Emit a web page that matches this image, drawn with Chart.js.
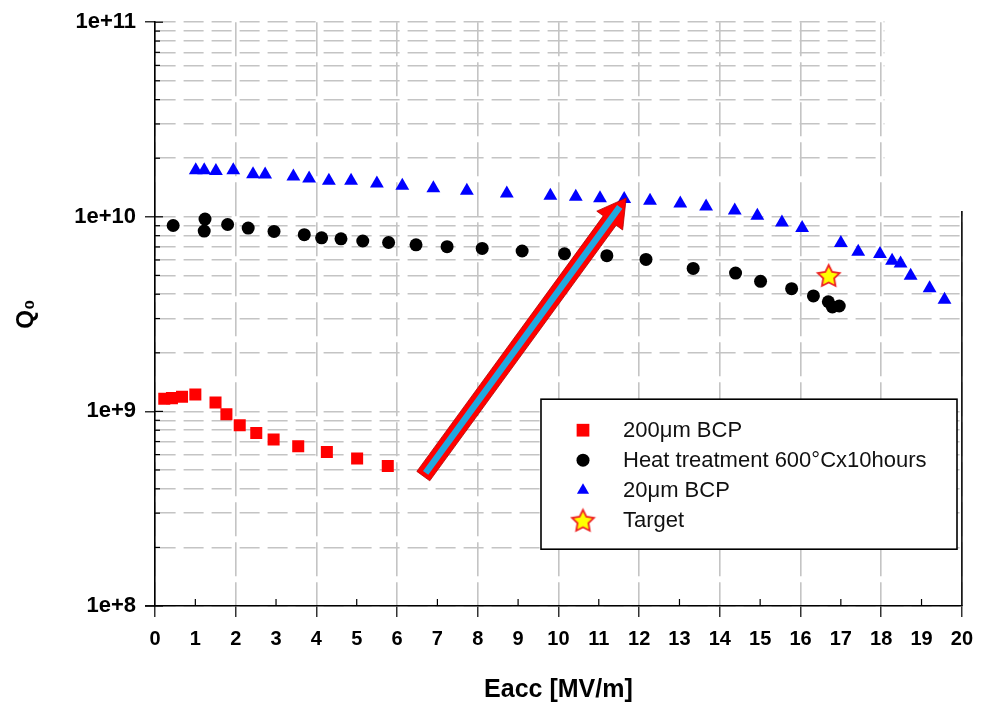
<!DOCTYPE html>
<html>
<head>
<meta charset="utf-8">
<script src="https://cdn.jsdelivr.net/npm/chart.js@4.4.1/dist/chart.umd.min.js"></script>
<style>
  html, body { margin: 0; padding: 0; background: #ffffff; }
  #wrap { width: 983px; height: 705px; position: relative; }
</style>
</head>
<body>
<div id="wrap"><canvas id="chart" width="983" height="705"></canvas></div>
<script>
// ---------------- data ----------------
const bcp200X = [0.23, 0.42, 0.67, 1.00, 1.50, 1.77, 2.10, 2.51, 2.94, 3.55, 4.26, 5.01, 5.77];
const bcp200Q = [1.16e9, 1.17e9, 1.19e9, 1.22e9, 1.11e9, 9.66e8, 8.48e8, 7.74e8, 7.18e8, 6.62e8, 6.18e8, 5.72e8, 5.24e8];

const heatX = [0.45, 1.24, 1.22, 1.80, 2.31, 2.95, 3.70, 4.13, 4.61, 5.15, 5.79, 6.47, 7.24, 8.11, 9.10,
               10.15, 11.20, 12.17, 13.34, 14.39, 15.01, 15.78, 16.32, 16.69, 16.79, 16.96];
const heatQ = [9.02e9, 9.73e9, 8.45e9, 9.13e9, 8.75e9, 8.41e9, 8.09e9, 7.80e9, 7.71e9, 7.51e9, 7.38e9, 7.18e9, 7.02e9, 6.88e9, 6.67e9,
               6.46e9, 6.31e9, 6.04e9, 5.43e9, 5.14e9, 4.66e9, 4.27e9, 3.92e9, 3.66e9, 3.44e9, 3.48e9];

const bcp20X = [1.01, 1.22, 1.51, 1.94, 2.43, 2.73, 3.43, 3.82, 4.31, 4.86, 5.50, 6.13, 6.90, 7.73, 8.72,
                9.80, 10.43, 11.03, 11.63, 12.27, 13.02, 13.66, 14.37, 14.93, 15.54, 16.04, 17.00, 17.43, 17.97,
                18.27, 18.48, 18.73, 19.20, 19.57];
const bcp20Q = [1.736e10, 1.736e10, 1.721e10, 1.736e10, 1.655e10, 1.648e10, 1.610e10, 1.572e10, 1.530e10, 1.530e10,
                1.482e10, 1.442e10, 1.403e10, 1.360e10, 1.317e10, 1.282e10, 1.267e10, 1.247e10, 1.233e10, 1.209e10,
                1.170e10, 1.129e10, 1.078e10, 1.012e10, 9.35e9, 8.75e9, 7.34e9, 6.61e9, 6.44e9, 5.95e9, 5.76e9,
                4.98e9, 4.29e9, 3.75e9];

const targetX = [16.70];
const targetQ = [5.0e9];

const seriesLabels = ['200\u03bcm BCP', 'Heat treatment 600\u00b0Cx10hours', '20\u03bcm BCP', 'Target'];

const xMin = 0, xMax = 20, xStep = 1;
const yDecadeExps = [8, 9, 10, 11];
const yMantissas = [1, 2, 3, 4, 5, 6, 7, 8, 9];

// annotation arrow (tail and tip in data units)
const arrowTail = [6.65, 4.65e8];
const arrowTip = [11.68, 1.25e10];

// ---------------- helpers ----------------
const FONT = "'Liberation Sans', Arial, Helvetica, sans-serif";
const toPoints = (xs, ys) => xs.map((x, i) => ({ x: x, y: ys[i] }));

function makeStar(R, fill, stroke) {
  const s = Math.ceil(R * 2 + 4);
  const c = document.createElement('canvas');
  c.width = s; c.height = s;
  const g = c.getContext('2d');
  const cx = s / 2, cy = s / 2 + R * 0.1;
  g.beginPath();
  for (let i = 0; i < 10; i++) {
    const r = i % 2 === 0 ? R : R * 0.5;
    const a = -Math.PI / 2 + i * Math.PI / 5;
    g.lineTo(cx + r * Math.cos(a), cy + r * Math.sin(a));
  }
  g.closePath();
  g.fillStyle = fill; g.fill();
  g.lineWidth = 1.8; g.strokeStyle = stroke; g.stroke();
  return c;
}
const starImg = makeStar(11.5, '#ffff00', '#ee2222');

function drawMarker(ctx, ds, x, y) {
  const st = ds.pointStyle, r = ds.pointRadius;
  ctx.save();
  ctx.fillStyle = ds.pointBackgroundColor;
  if (st === 'rect') {
    const h = r * Math.SQRT1_2;
    ctx.fillRect(x - h, y - h, 2 * h, 2 * h);
  } else if (st === 'circle') {
    ctx.beginPath(); ctx.arc(x, y, r, 0, Math.PI * 2); ctx.fill();
  } else if (st === 'triangle') {
    ctx.beginPath();
    ctx.moveTo(x, y - r);
    ctx.lineTo(x + r * Math.sin(2 * Math.PI / 3), y + r / 2);
    ctx.lineTo(x - r * Math.sin(2 * Math.PI / 3), y + r / 2);
    ctx.closePath(); ctx.fill();
  } else if (st && st.width) {
    ctx.drawImage(st, x - st.width / 2, y - st.height / 2);
  }
  ctx.restore();
}

// ---------------- plugins ----------------
const frameExtras = {
  id: 'frameExtras',
  beforeDatasetsDraw(chart, args, opts) {
    const ctx = chart.ctx, a = chart.chartArea, xs = chart.scales.x, ys = chart.scales.y;
    ctx.save();
    const mx = xs.getPixelForValue(opts.blankFromX);
    const my = ys.getPixelForValue(opts.blankToY);
    ctx.fillStyle = '#ffffff';
    ctx.fillRect(mx, 0, chart.width - mx, my);
    ctx.strokeStyle = '#000'; ctx.lineWidth = 1.5;
    ctx.beginPath(); ctx.moveTo(a.right, my); ctx.lineTo(a.right, a.bottom); ctx.stroke();
    ctx.beginPath(); ctx.moveTo(a.left - 10, a.bottom); ctx.lineTo(a.left, a.bottom); ctx.stroke();
    ctx.lineWidth = 1.2;
    xs.ticks.forEach(t => {
      if (t.value % 2 !== 0) {
        const px = xs.getPixelForValue(t.value);
        ctx.beginPath(); ctx.moveTo(px, a.bottom); ctx.lineTo(px, a.bottom - 7); ctx.stroke();
      }
    });
    ys.ticks.forEach(t => {
      const py = ys.getPixelForValue(t.value);
      const major = Math.abs(Math.log10(t.value) - Math.round(Math.log10(t.value))) < 1e-9;
      ctx.beginPath(); ctx.moveTo(a.left, py); ctx.lineTo(a.left + (major ? 8 : 5), py); ctx.stroke();
    });
    ctx.restore();
  }
};

const arrowPlugin = {
  id: 'arrowPlugin',
  afterDatasetsDraw(chart) {
    const ctx = chart.ctx, xs = chart.scales.x, ys = chart.scales.y;
    const tx = xs.getPixelForValue(arrowTail[0]), ty = ys.getPixelForValue(arrowTail[1]);
    const hx = xs.getPixelForValue(arrowTip[0]), hy = ys.getPixelForValue(arrowTip[1]);
    const dx = hx - tx, dy = hy - ty, L = Math.hypot(dx, dy);
    const ux = dx / L, uy = dy / L, px = -uy, py = ux;
    const headLen = 28, headHalf = 16, shaftHalf = 8;
    const bx = hx - ux * headLen, by = hy - uy * headLen;
    ctx.save();
    ctx.fillStyle = '#ff0000';
    ctx.strokeStyle = '#b00000'; ctx.lineWidth = 0.8;
    ctx.beginPath();
    ctx.moveTo(tx + px * shaftHalf, ty + py * shaftHalf);
    ctx.lineTo(bx + px * shaftHalf, by + py * shaftHalf);
    ctx.lineTo(bx + px * headHalf, by + py * headHalf);
    ctx.lineTo(hx, hy);
    ctx.lineTo(bx - px * headHalf, by - py * headHalf);
    ctx.lineTo(bx - px * shaftHalf, by - py * shaftHalf);
    ctx.lineTo(tx - px * shaftHalf, ty - py * shaftHalf);
    ctx.closePath();
    ctx.fill(); ctx.stroke();
    ctx.strokeStyle = '#22a8e0'; ctx.lineWidth = 6.5; ctx.lineCap = 'butt';
    ctx.beginPath();
    ctx.moveTo(tx + ux * 4, ty + uy * 4);
    ctx.lineTo(hx - ux * 11, hy - uy * 11);
    ctx.stroke();
    ctx.restore();
  }
};

const boxLegend = {
  id: 'boxLegend',
  afterDatasetsDraw(chart, args, o) {
    const ctx = chart.ctx, a = chart.chartArea;
    const x0 = a.left + o.offsetX, y0 = a.top + o.offsetY;
    ctx.save();
    ctx.fillStyle = '#ffffff'; ctx.fillRect(x0, y0, o.width, o.height);
    ctx.strokeStyle = '#000'; ctx.lineWidth = 1.6; ctx.strokeRect(x0, y0, o.width, o.height);
    ctx.font = o.font; ctx.fillStyle = '#111'; ctx.textBaseline = 'middle'; ctx.textAlign = 'left';
    chart.data.datasets.forEach((ds, i) => {
      const y = y0 + o.firstRow + i * o.rowGap;
      drawMarker(ctx, Object.assign({}, ds, { pointRadius: ds.legendRadius || ds.pointRadius }), x0 + o.markerX, y);
      ctx.fillText(ds.label, x0 + o.textX, y + 1);
    });
    ctx.restore();
  }
};

// ---------------- chart ----------------
Chart.defaults.font.family = FONT;
Chart.defaults.color = '#000';

new Chart(document.getElementById('chart'), {
  type: 'scatter',
  data: {
    datasets: [
      { label: seriesLabels[0], data: toPoints(bcp200X, bcp200Q), pointStyle: 'rect', pointRadius: 8.5, legendRadius: 9,
        pointBackgroundColor: '#ff0000', pointBorderColor: '#ff0000', pointBorderWidth: 0, showLine: false },
      { label: seriesLabels[1], data: toPoints(heatX, heatQ), pointStyle: 'circle', pointRadius: 6.5, legendRadius: 6.5,
        pointBackgroundColor: '#000000', pointBorderColor: '#000000', pointBorderWidth: 0, showLine: false },
      { label: seriesLabels[2], data: toPoints(bcp20X, bcp20Q), pointStyle: 'triangle', pointRadius: 8, legendRadius: 7,
        pointBackgroundColor: '#0000ff', pointBorderColor: '#0000ff', pointBorderWidth: 0, showLine: false },
      { label: seriesLabels[3], data: toPoints(targetX, targetQ), pointStyle: starImg, pointRadius: 11,
        pointBackgroundColor: '#ffff00', pointBorderColor: '#ee2222', pointBorderWidth: 0, showLine: false }
    ]
  },
  options: {
    responsive: false,
    animation: false,
    events: [],
    layout: { padding: { top: 18, right: 15, left: 0, bottom: 0 } },
    plugins: {
      legend: { display: false },
      tooltip: { enabled: false },
      frameExtras: { blankFromX: 18.08, blankToY: 1.07e10 },
      boxLegend: { offsetX: 386, offsetY: 377, width: 416, height: 150, markerX: 42, textX: 82,
                   firstRow: 31, rowGap: 30, font: "22px " + FONT }
    },
    scales: {
      x: {
        type: 'linear', min: xMin, max: xMax,
        afterFit: s => { s.height = 99; },
        ticks: { stepSize: xStep, autoSkip: false, maxRotation: 0, padding: 10,
                 font: { size: 20, weight: 'bold' }, color: '#000',
                 callback: v => String(v) },
        grid: {
          color: c => (c.tick && c.tick.value % 2 === 0) ? '#c4c4c4' : 'rgba(0,0,0,0)',
          lineWidth: 1.6,
          tickColor: c => (c.tick && c.tick.value % 2 === 0) ? '#000' : 'rgba(0,0,0,0)',
          tickLength: 11, tickWidth: 1.2
        },
        border: { display: true, color: '#000', width: 1.6, dash: [34, 6] },
        title: { display: true, text: 'Eacc [MV/m]', font: { size: 25, weight: 'bold' }, color: '#000',
                 padding: { top: 0, bottom: 0 } }
      },
      y: {
        type: 'logarithmic', min: 1e8, max: 1e11,
        afterFit: s => { s.width = 155; },
        afterBuildTicks: s => {
          const t = [];
          yDecadeExps.forEach(e => {
            if (e === yDecadeExps[yDecadeExps.length - 1]) { t.push({ value: Math.pow(10, e) }); return; }
            yMantissas.forEach(m => t.push({ value: m * Math.pow(10, e) }));
          });
          s.ticks = t;
        },
        ticks: {
          autoSkip: false, padding: 9, font: { size: 22, weight: 'bold' }, color: '#000',
          callback: v => {
            const e = Math.log10(v);
            return Math.abs(e - Math.round(e)) < 1e-9 ? '1e+' + Math.round(e) : '';
          }
        },
        grid: {
          color: '#c4c4c4', lineWidth: 1.6,
          tickColor: c => {
            if (!c.tick) return 'rgba(0,0,0,0)';
            const e = Math.log10(c.tick.value);
            return Math.abs(e - Math.round(e)) < 1e-9 ? '#000' : 'rgba(0,0,0,0)';
          },
          tickLength: 10, tickWidth: 1.2
        },
        border: { display: true, color: '#000', width: 1.6, dash: [20, 8] },
        title: { display: true, text: 'Q\u2080', font: { size: 24, weight: 'bold' }, color: '#000',
                 padding: { top: 12, bottom: 0 } }
      }
    }
  },
  plugins: [frameExtras, arrowPlugin, boxLegend]
});
</script>
</body>
</html>
